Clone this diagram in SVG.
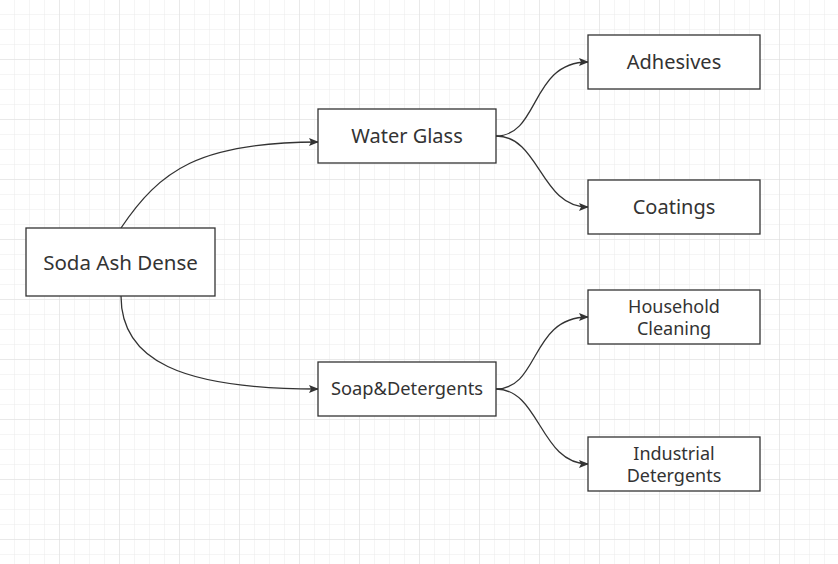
<svg xmlns="http://www.w3.org/2000/svg" width="838" height="564" viewBox="0 0 838 564">
<defs>
<pattern id="minor" width="15" height="15" patternUnits="userSpaceOnUse"><path d="M15 0V15M0 15H15" fill="none" stroke="#ebebeb" stroke-width="1"/></pattern>
<pattern id="major" width="60" height="60" patternUnits="userSpaceOnUse"><rect width="60" height="60" fill="url(#minor)"/><path d="M60 0V60M0 60H60" fill="none" stroke="#dedede" stroke-width="1"/></pattern>
<marker id="arr" markerWidth="10" markerHeight="8" refX="9" refY="4" orient="auto" markerUnits="userSpaceOnUse"><path d="M0 0L10 4L0 8L2 4Z" fill="#333"/></marker>
</defs>
<style>
.n rect{fill:#fff;stroke:#333;stroke-width:1.3}
.n text{font-family:"Microsoft YaHei","Noto Sans","DejaVu Sans",sans-serif;fill:#333;text-anchor:middle}
.e path{fill:none;stroke:#333;stroke-width:1.3;marker-end:url(#arr)}
</style>
<rect width="838" height="564" fill="#fff"/>
<rect width="838" height="564" fill="url(#major)"/>
<g class="e">
<path d="M121 228C160 170 200 142 318 142"/>
<path d="M121 296C121 360 180 389 318 389"/>
<path d="M496 136C540 136 530 62 588 62"/>
<path d="M496 136C540 136 540 207 588 207"/>
<path d="M496 389C540 389 530 317 588 317"/>
<path d="M496 389C540 389 540 464 588 464"/>
</g>
<g id="soda" class="n"><rect x="26" y="228" width="189" height="68"/><text x="120.5" y="270" font-size="20.5">Soda Ash Dense</text></g>
<g id="water" class="n"><rect x="318" y="109" width="178" height="54"/><text x="407" y="143" font-size="20">Water Glass</text></g>
<g id="soap" class="n"><rect x="318" y="362" width="178" height="54"/><text x="407" y="395" font-size="18.3">Soap&amp;Detergents</text></g>
<g id="adhesives" class="n"><rect x="588" y="35" width="172" height="54"/><text x="674" y="69" font-size="20">Adhesives</text></g>
<g id="coatings" class="n"><rect x="588" y="180" width="172" height="54"/><text x="674" y="214" font-size="20">Coatings</text></g>
<g id="household" class="n"><rect x="588" y="290" width="172" height="54"/><text x="674" y="313" font-size="18">Household</text><text x="674" y="335" font-size="18">Cleaning</text></g>
<g id="industrial" class="n"><rect x="588" y="437" width="172" height="54"/><text x="674" y="460" font-size="18">Industrial</text><text x="674" y="482" font-size="18">Detergents</text></g>
</svg>
